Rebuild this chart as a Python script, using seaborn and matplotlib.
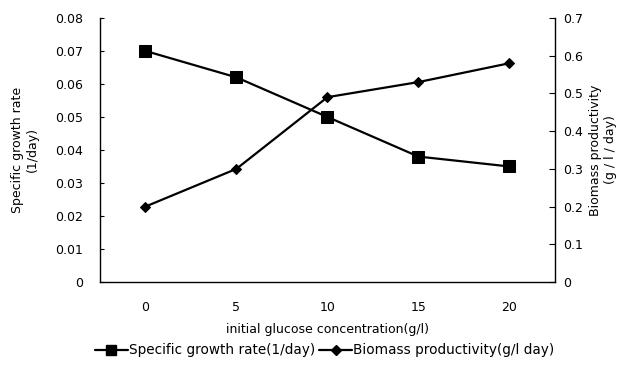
import matplotlib
matplotlib.use("Agg")
import matplotlib.pyplot as plt
import seaborn as sns
import pandas as pd
from matplotlib.lines import Line2D

glucose = ["0", "5", "10", "15", "20"]
growth_rate = [0.070, 0.062, 0.050, 0.038, 0.035]
productivity = [0.20, 0.30, 0.49, 0.53, 0.58]

sns.set_style("white")
plt.rcParams["font.family"] = ["DejaVu Sans"]
plt.rcParams["font.size"] = 9
plt.rcParams["text.color"] = "black"
plt.rcParams["axes.labelcolor"] = "black"
plt.rcParams["xtick.color"] = "black"
plt.rcParams["ytick.color"] = "black"

df = pd.DataFrame({"x": range(len(glucose)), "growth": growth_rate, "prod": productivity})

fig = plt.figure(figsize=(6.43, 3.74), dpi=100)
ax = fig.add_axes([0.1555, 0.246, 0.7075, 0.706])
ax2 = ax.twinx()

sns.lineplot(data=df, x="x", y="growth", ax=ax, color="black", marker="s",
             markersize=8.3, linewidth=1.6, markeredgecolor="black")
sns.lineplot(data=df, x="x", y="prod", ax=ax2, color="black", marker="D",
             markersize=5.3, linewidth=1.6, markeredgecolor="black")

ax.set_xlim(-0.5, len(glucose) - 0.5)
ax.set_ylim(0, 0.08)
ax2.set_ylim(0, 0.7)
ax.set_yticks([i * 0.01 for i in range(9)])
ax.set_yticklabels(["0"] + [f"{i*0.01:.2f}" for i in range(1, 9)])
ax2.set_yticks([i * 0.1 for i in range(8)])
ax2.set_yticklabels(["0"] + [f"{i*0.1:.1f}" for i in range(1, 8)])

ax.set_xticks(range(len(glucose)))
ax.set_xticklabels(glucose)
ax.tick_params(axis="x", length=0, pad=14)
# category separators on the x axis
ax.set_xticks([i + 0.5 for i in range(len(glucose) - 1)], minor=True)
ax.tick_params(axis="x", which="minor", direction="in", length=4, width=0.8)

ax.tick_params(axis="y", direction="in", length=3, width=0.8, pad=12)
ax2.tick_params(axis="y", direction="in", length=4, width=0.8, pad=6)

for a in (ax, ax2):
    a.spines["top"].set_visible(False)
    for s in ("left", "right", "bottom"):
        a.spines[s].set_linewidth(1.0)
        a.spines[s].set_color("black")
ax.spines["right"].set_visible(False)
ax2.spines["left"].set_visible(False)
ax2.spines["bottom"].set_visible(False)

ax.set_xlabel("initial glucose concentration(g/l)", labelpad=6)
ax.set_ylabel("Specific growth rate\n(1/day)", labelpad=12)
ax2.set_ylabel("Biomass productivity\n(g / l / day)", labelpad=4)

handles = [
    Line2D([], [], color="black", marker="s", markersize=6.5, linewidth=1.6),
    Line2D([], [], color="black", marker="D", markersize=5, linewidth=1.6),
]
fig.legend(handles, ["Specific growth rate(1/day)", "Biomass productivity(g/l day)"],
           loc="center", bbox_to_anchor=(0.505, 0.063), ncol=2, frameon=False,
           fontsize=9.8, handlelength=2.4, handletextpad=0.1, columnspacing=0.3)

fig.savefig("out.png", dpi=100)
